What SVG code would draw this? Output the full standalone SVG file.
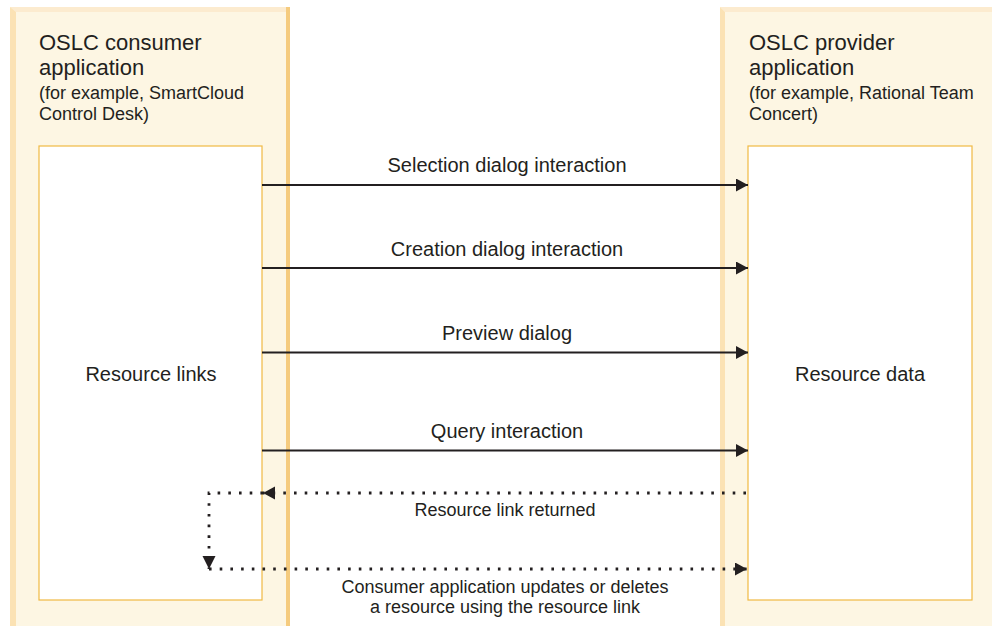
<svg xmlns="http://www.w3.org/2000/svg" width="992" height="626" viewBox="0 0 992 626">
<defs>
<style>
.panel{fill:#fdf6e3}
.topstrip{fill:#fcebcf}
.lstrip{fill:#fbe2b4}
.rstrip{fill:#f5cb7e}
.inner{fill:#ffffff;stroke:#f1b943;stroke-width:1.2}
text{font-family:"Liberation Sans",Arial,sans-serif;fill:#231f20}
.title{font-size:22px}
.sub{font-size:18px}
.lbl{font-size:20px}
.small{font-size:18px}
.solid{stroke:#231f20;stroke-width:2;fill:none}
.dot{stroke:#231f20;stroke-width:2.8;fill:none;stroke-dasharray:2.6 8.1}
</style>
<marker id="ah" markerUnits="userSpaceOnUse" markerWidth="14" markerHeight="14" refX="12" refY="6.5" orient="auto">
<path d="M0,0 L12,6.5 L0,13 Z" fill="#231f20"/>
</marker>
</defs>
<rect width="992" height="626" fill="#ffffff"/>
<g id="consumer">
<rect class="panel" x="10" y="7" width="280" height="619"/>
<polygon class="topstrip" points="10,7 290,7 286,12 16,12"/>
<polygon class="lstrip" points="10,7 16,12 16,626 10,626"/>
<rect class="rstrip" x="286" y="7" width="4" height="619"/>
<text class="title" x="39" y="50">OSLC consumer</text>
<text class="title" x="39" y="75">application</text>
<text class="sub" x="39" y="99">(for example, SmartCloud</text>
<text class="sub" x="39" y="120">Control Desk)</text>
</g>
<g id="resource-links">
<rect class="inner" x="39" y="146" width="223" height="454"/>
<text class="lbl" x="151" y="381" text-anchor="middle">Resource links</text>
</g>
<g id="provider">
<rect class="panel" x="720" y="7" width="272" height="619"/>
<polygon class="topstrip" points="720,7 992,7 992,12 725,12"/>
<polygon class="lstrip" points="720,7 725,12 725,626 720,626"/>
<text class="title" x="749" y="50">OSLC provider</text>
<text class="title" x="749" y="75">application</text>
<text class="sub" x="749" y="99">(for example, Rational Team</text>
<text class="sub" x="749" y="120">Concert)</text>
</g>
<g id="resource-data">
<rect class="inner" x="748" y="146" width="224" height="454"/>
<text class="lbl" x="860" y="381" text-anchor="middle">Resource data</text>
</g>
<g id="connectors">
<path class="solid" d="M262,185 H748" marker-end="url(#ah)"/>
<text class="lbl" x="507" y="172" text-anchor="middle">Selection dialog interaction</text>
<path class="solid" d="M262,268 H748" marker-end="url(#ah)"/>
<text class="lbl" x="507" y="256" text-anchor="middle">Creation dialog interaction</text>
<path class="solid" d="M262,352.5 H748" marker-end="url(#ah)"/>
<text class="lbl" x="507" y="340" text-anchor="middle">Preview dialog</text>
<path class="solid" d="M262,450.5 H748" marker-end="url(#ah)"/>
<text class="lbl" x="507" y="438" text-anchor="middle">Query interaction</text>
<path class="dot" d="M746,493 H263" marker-end="url(#ah)"/>
<path class="dot" d="M263,493 H209 V569"/>
<path d="M202.5,556 L215.5,556 L209,569 Z" fill="#231f20"/>
<path class="dot" d="M209,569 H747" marker-end="url(#ah)"/>
<text class="small" x="505" y="516" text-anchor="middle">Resource link returned</text>
<text class="small" x="505" y="593" text-anchor="middle">Consumer application updates or deletes</text>
<text class="small" x="505" y="613" text-anchor="middle">a resource using the resource link</text>
</g>
</svg>
